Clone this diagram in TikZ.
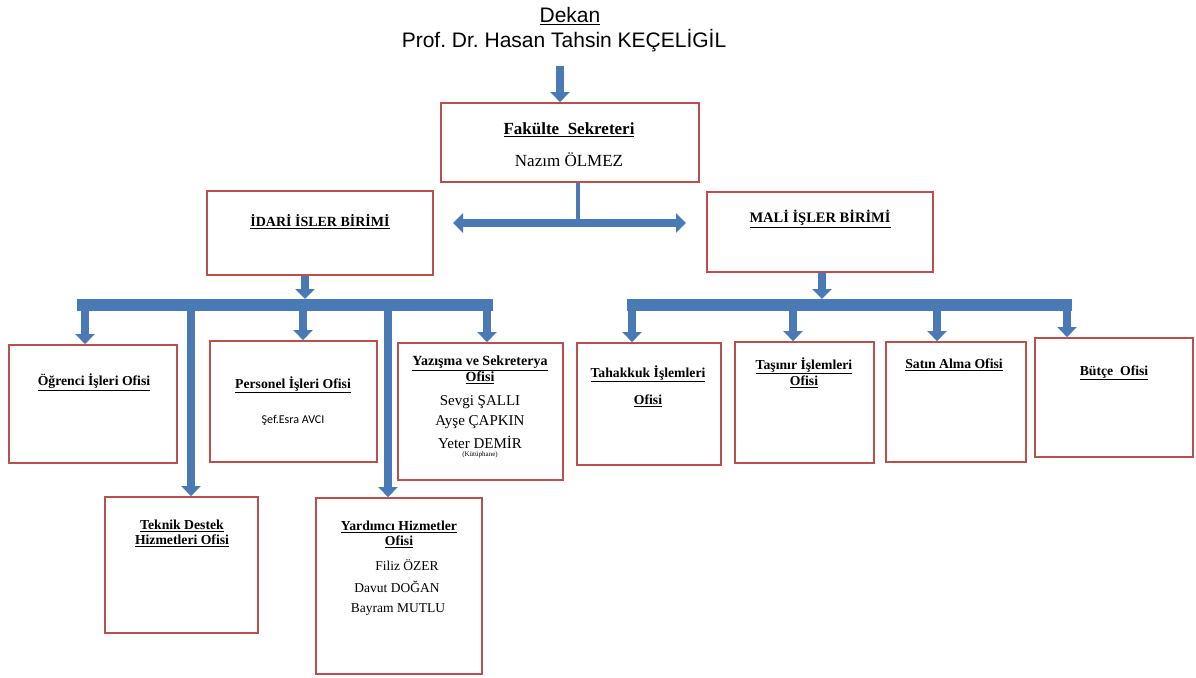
\documentclass[tikz,border=0pt]{standalone}
\usepackage{fontspec}
\setmainfont{Liberation Serif}
\newfontfamily\arialf{Liberation Sans}
\newfontfamily\carlitof{Carlito}
\usetikzlibrary{arrows.meta}
\definecolor{boxred}{RGB}{185,80,80}
\definecolor{arrblue}{RGB}{74,122,182}
\newcommand{\fs}[1]{\fontsize{#1}{#1}\selectfont}
\newcommand{\hd}[1]{\textbf{\underline{#1}}}
\frenchspacing
\begin{document}
\begin{tikzpicture}[x=1pt,y=-1pt,
  box/.style={draw=boxred, line width=1.8pt, fill=white, inner sep=0pt, rectangle},
  txt/.style={inner sep=0pt, align=center, text=black},
  office/.style={txt, font=\fs{13.7}},
  person/.style={txt, font=\fs{13.5}},
  bigperson/.style={txt, font=\fs{15}},
  stem/.style={draw=arrblue, line width=4pt},
  barrow/.style={draw=arrblue, line width=8pt, -{Triangle[width=19pt,length=10pt]}},
  darrow/.style={draw=arrblue, line width=8pt, {Triangle[width=19pt,length=10pt]}-{Triangle[width=19pt,length=10pt]}},
  bar/.style={draw=arrblue, line width=12pt},
]
\useasboundingbox (0,0) rectangle (1196,677);
\fill[white] (0,0) rectangle (1196,677);

% title
\node[txt, font=\arialf\fs{21}] (dekan) at (570,16) {\underline{Dekan}};
\node[txt, font=\arialf\fs{21}] (prof) at (564,41) {Prof. Dr. Hasan Tahsin KEÇELİGİL};

% boxes
\node[box, minimum width=258pt, minimum height=79pt] (fak) at (570,142.5) {};
\node[box, minimum width=226pt, minimum height=84pt] (idari) at (320,233) {};
\node[box, minimum width=226pt, minimum height=80pt] (mali) at (820,232) {};
\node[box, minimum width=168pt, minimum height=118pt] (ogr) at (93,404) {};
\node[box, minimum width=167pt, minimum height=121pt] (pers) at (293.5,401.5) {};
\node[box, minimum width=165pt, minimum height=137pt] (yaz) at (480.5,411.5) {};
\node[box, minimum width=153pt, minimum height=136pt] (tek) at (181.5,565) {};
\node[box, minimum width=166pt, minimum height=176pt] (yard) at (399,586) {};
\node[box, minimum width=144pt, minimum height=122pt] (tah) at (649,404) {};
\node[box, minimum width=139pt, minimum height=121pt] (tas) at (804.5,402.5) {};
\node[box, minimum width=140pt, minimum height=120pt] (sat) at (956,402) {};
\node[box, minimum width=158pt, minimum height=119pt] (but) at (1114,397.5) {};

% texts
\node[txt, font=\fs{17}] (fak1) at (569,130) {\hd{Fakülte\ \ Sekreteri}};
\node[txt, font=\fs{17}] (fak2) at (569,160) {Nazım ÖLMEZ};
\node[txt, font=\fs{14}] (idari1) at (320,222) {\hd{İDARİ İSLER BİRİMİ}};
\node[txt, font=\fs{14.5}] (mali1) at (820,219) {\hd{MALİ İŞLER BİRİMİ}};
\node[office] (ogr1) at (94,382) {\hd{Öğrenci İşleri Ofisi}};
\node[office] (pers1) at (293,385) {\hd{Personel İşleri Ofisi}};
\node[txt, font=\carlitof\fs{12}] (pers2) at (293,420) {Şef.Esra AVCI};
\node[office, font=\fs{14}] (yaz1) at (480,363) {\hd{Yazışma ve Sekreterya}};
\node[office, font=\fs{14}] (yaz2) at (480,378) {\hd{Ofisi}};
\node[bigperson] (yaz3) at (480,402) {Sevgi ŞALLI};
\node[bigperson] (yaz4) at (480,422) {Ayşe ÇAPKIN};
\node[bigperson] (yaz5) at (480,442) {Yeter DEMİR};
\node[txt, font=\fs{7}] (yaz6) at (480,455) {(Kütüphane)};
\node[office] (tek1) at (182,526) {\hd{Teknik Destek}};
\node[office] (tek2) at (182,541) {\hd{Hizmetleri Ofisi}};
\node[office] (yard1) at (399,527) {\hd{Yardımcı Hizmetler}};
\node[office] (yard2) at (399,542) {\hd{Ofisi}};
\node[person] (yard3) at (407,565) {Filiz ÖZER};
\node[person] (yard4) at (397,587) {Davut DOĞAN};
\node[person] (yard5) at (398,610) {Bayram MUTLU};
\node[office] (tah1) at (648,374) {\hd{Tahakkuk İşlemleri}};
\node[office] (tah2) at (648,401) {\hd{Ofisi}};
\node[office] (tas1) at (804,366) {\hd{Taşınır İşlemleri}};
\node[office] (tas2) at (804,382) {\hd{Ofisi}};
\node[office] (sat1) at (954,365) {\hd{Satın Alma Ofisi}};
\node[office] (but1) at (1114,373) {\hd{Bütçe\ \ Ofisi}};

% connectors
\coordinate (dtop) at (560,66);
\draw[barrow] (dtop) -- (dtop |- fak.north);
\coordinate (dj) at (578,223);
\coordinate (dl) at (453,223);
\coordinate (dr) at (686,223);
\draw[stem] (fak.south -| dj) -- (dj);
\draw[darrow] (dl) -- (dr);

% left branch
\coordinate (lbj) at (305,299);
\draw[barrow] (idari.south -| lbj) -- (lbj);
\coordinate (lb1) at (77,305);
\coordinate (lb2) at (493,305);
\coordinate (la) at (85,305);
\coordinate (lb) at (191,305);
\coordinate (lc) at (303,305);
\coordinate (ld) at (388,305);
\coordinate (le) at (487,305);
\draw[barrow] (la) -- (la |- ogr.north);
\draw[barrow] (lb) -- (lb |- tek.north);
\draw[barrow] (lc) -- (lc |- pers.north);
\draw[barrow] (ld) -- (ld |- yard.north);
\draw[barrow] (le) -- (le |- yaz.north);
\draw[bar] (lb1) -- (lb2);

% right branch
\coordinate (rbj) at (822,299);
\draw[barrow] (mali.south -| rbj) -- (rbj);
\coordinate (rb1) at (627,305);
\coordinate (rb2) at (1072,305);
\coordinate (ra) at (632,305);
\coordinate (rb) at (793,305);
\coordinate (rc) at (937,305);
\coordinate (rd) at (1067,305);
\draw[barrow] (ra) -- (ra |- tah.north);
\draw[barrow] (rb) -- (rb |- tas.north);
\draw[barrow] (rc) -- (rc |- sat.north);
\draw[barrow] (rd) -- (rd |- but.north);
\draw[bar] (rb1) -- (rb2);
\end{tikzpicture}
\end{document}
